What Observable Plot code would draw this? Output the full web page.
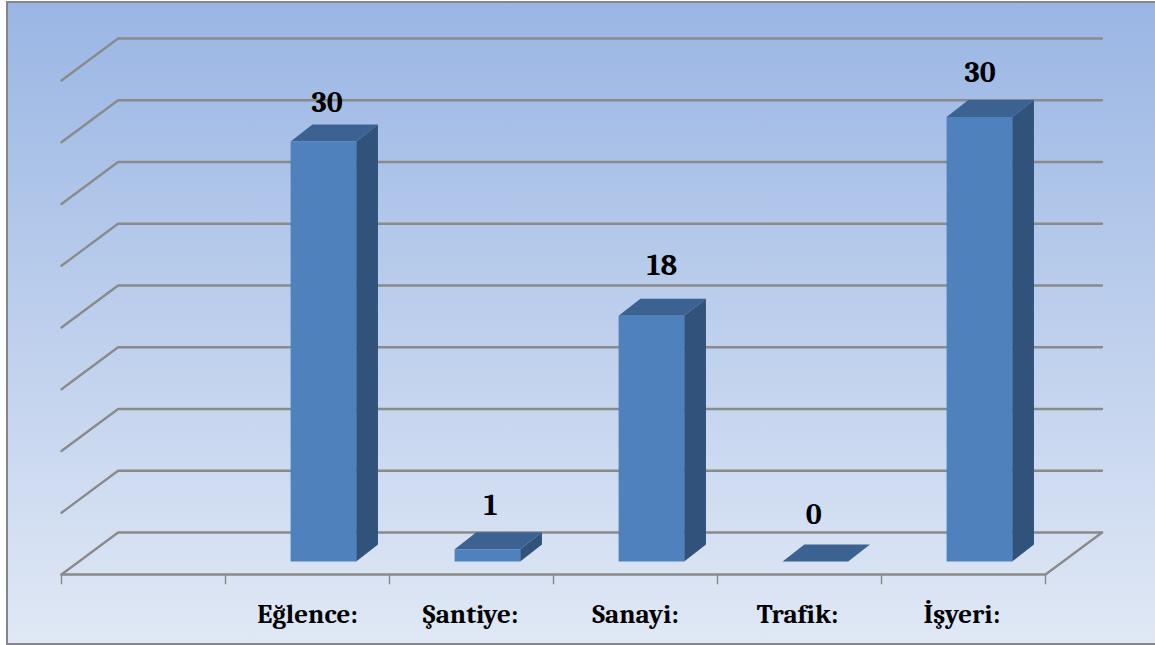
<!DOCTYPE html>
<html>
<head>
<meta charset="utf-8">
<script src="https://cdn.jsdelivr.net/npm/d3@7"></script>
<script src="https://cdn.jsdelivr.net/npm/@observablehq/plot@0.6"></script>
<style>
html,body{margin:0;padding:0;background:#fff;overflow:hidden;width:1155px;height:645px}
#frame{position:absolute;left:6px;top:1px;width:1149px;height:644px;box-sizing:border-box;
 border:2px solid #868686;border-right:none;
 background:linear-gradient(180deg,#9AB6E4 0%,#E0E8F5 100%)}
#chart{position:absolute;left:0;top:0}
</style>
</head>
<body>
<div id="frame"></div>
<div id="chart"></div>
<script>
const categories = ["Eğlence:", "Şantiye:", "Sanayi:", "Trafik:", "İşyeri:"];
const slots = [1, 2, 3, 4, 5];
const shownLabels = ["30", "1", "18", "0", "30"];
const barHeights = [30.6, 0.9, 17.9, 0, 32.4];
const gridValues = [0, 4.5, 9, 13.5, 18, 22.5, 27, 31.5, 36];
const tickSlots = [0, 1, 2, 3, 4, 5, 6];

// oblique projection of the 3-D chart box, in data units
const depthX = 0.345, depthY = 3.06;
const barFront = 0.31, barBack = 0.715, halfBar = 0.2, barShift = -0.01, backShift = -0.007;
const project = (slot, value, d) => ({x: slot + d * depthX, y: value + d * depthY});
const center = (i) => slots[i] + 0.5;

const gridLines = gridValues.flatMap((v) => [
  {k: v, ...project(0, v, 0)},
  {k: v, ...project(0, v, 1)},
  {k: v, ...project(6, v, 1)}
]);
const floorEdge = [project(0, 0, 0), project(6, 0, 0), project(6, 0, 1)];

const face = (i, corners) => corners.map(([s, v, d]) => ({k: i, ...project(s, v, d)}));
const fronts = [], sides = [], tops = [];
categories.forEach((c, i) => {
  const a = center(i) - halfBar + barShift, b = center(i) + halfBar + barShift, h = barHeights[i];
  const a2 = a + backShift, b2 = b + backShift;
  fronts.push(...face(i, [[a,0,barFront],[b,0,barFront],[b,h,barFront],[a,h,barFront]]));
  sides.push(...face(i, [[b,0,barFront],[b2,0,barBack],[b2,h,barBack],[b,h,barFront]]));
  tops.push(...face(i, [[a,h,barFront],[b,h,barFront],[b2,h,barBack],[a2,h,barBack]]));
});

// small hand placement of the labels, as in the picture
const nudgeX = [0.012, 0.01, 0.055, -0.02, -0.005];
const nudgeY = [2.85, 3.2, 3.7, 3.42, 3.25];
const valueLabels = categories.map((c, i) => ({
  t: shownLabels[i],
  ...project(center(i) + nudgeX[i], barHeights[i] + nudgeY[i], barFront)
}));
const catNudge = [0, -0.006, 0, -0.012, -0.01];
const catLabels = categories.map((c, i) => ({t: c, x: center(i) + catNudge[i], y: -2.9}));

const font = "Cambria, 'Liberation Serif', serif";
const plot = Plot.plot({
  width: 1155,
  height: 645,
  margin: 0,
  style: {background: "transparent", overflow: "visible"},
  x: {domain: [0, 6], range: [61, 1045], axis: null},
  y: {domain: [0, 36], range: [574, 80], axis: null},
  marks: [
    Plot.line(gridLines, {x: "x", y: "y", z: "k", stroke: "#8a8a8a", strokeWidth: 2.3, curve: "linear"}),
    Plot.line(floorEdge, {x: "x", y: "y", stroke: "#8a8a8a", strokeWidth: 2.3, curve: "linear"}),
    Plot.ruleX(tickSlots, {x: (d) => d, y1: 0, y2: -0.75, stroke: "#8a8a8a", strokeWidth: 1.5}),
    Plot.line(sides, {x: "x", y: "y", z: "k", fill: "#30527B", stroke: "none", curve: "linear"}),
    Plot.line(tops, {x: "x", y: "y", z: "k", fill: "#3C6291", stroke: "none", curve: "linear"}),
    Plot.line(fronts, {x: "x", y: "y", z: "k", fill: "#4F81BD", stroke: "none", curve: "linear"}),
    Plot.text(valueLabels, {x: "x", y: "y", text: "t", fontFamily: font, fontWeight: "bold", fontSize: 30, fill: "#000"}),
    Plot.text(catLabels, {x: "x", y: "y", text: "t", fontFamily: font, fontWeight: "bold", fontSize: 27, fill: "#000"})
  ]
});
document.getElementById("chart").append(plot);
</script>
</body>
</html>
